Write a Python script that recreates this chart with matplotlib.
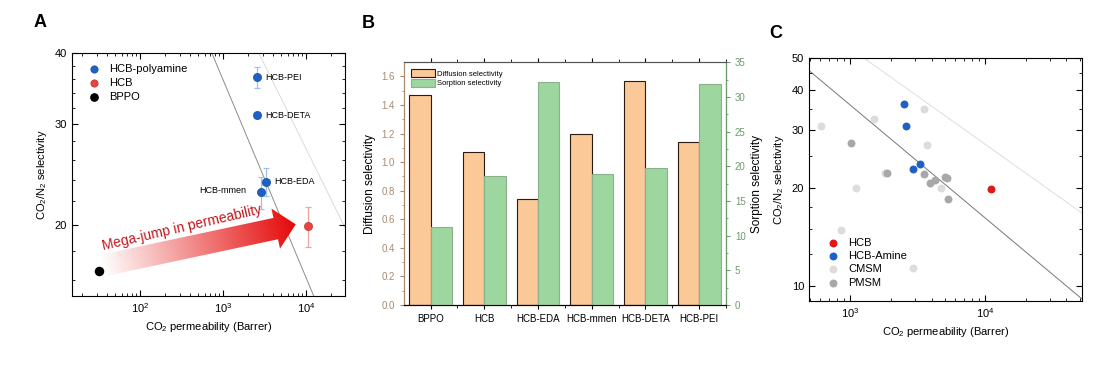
import numpy as np
import matplotlib
matplotlib.use("Agg")
import matplotlib.pyplot as plt
from matplotlib.patches import FancyArrow
from matplotlib.transforms import Affine2D
from matplotlib.ticker import FixedLocator, NullFormatter, FormatStrFormatter, LogLocator

plt.rcParams['font.family'] = ['Liberation Sans', 'DejaVu Sans']
plt.rcParams['mathtext.default'] = 'regular'

# ---- Panel A data ----
bppo_P, bppo_S = 32, 16.6
hcb_P, hcb_S, hcb_S_err = 10700, 19.9, 1.6
amine_names = ['HCB-PEI', 'HCB-DETA', 'HCB-EDA', 'HCB-mmen']
amine_P = [2540, 2570, 3250, 2880]
amine_S = [36.3, 31.1, 23.8, 22.8]
amine_S_err = [1.5, 0.3, 1.35, 1.5]
amine_P_err = [0, 120, 300, 0]

# upper bounds P = k * alpha**n
bound_2008 = (30967000, -2.888)
bound_2019 = (755580000, -3.4)

# ---- Panel B data ----
categories = ['BPPO', 'HCB', 'HCB-EDA', 'HCB-mmen', 'HCB-DETA', 'HCB-PEI']
diffusion = [1.47, 1.07, 0.74, 1.20, 1.57, 1.14]
sorption = [11.2, 18.6, 32.2, 18.9, 19.8, 31.9]

# ---- Panel C data ----
c_hcb_P, c_hcb_S = [11100], [19.9]
c_amine_P = [2520, 2580, 3290, 2940]
c_amine_S = [36.2, 31.0, 23.7, 22.8]
cmsm_P = [603, 1490, 3520, 3735, 1108, 1820, 4690, 858, 2918]
cmsm_S = [31.0, 32.6, 34.9, 27.0, 20.0, 22.2, 20.0, 14.9, 11.4]
pmsm_P = [1006, 1862, 3524, 3908, 4227, 5070, 5175, 5309]
pmsm_S = [27.4, 22.3, 22.1, 20.7, 21.1, 21.6, 21.4, 18.5]

BLUE = '#1f5fc8'
RED_A = '#e8453c'
RED_C = '#e01818'
CMSM = '#dcdcdc'
PMSM = '#a8a8a8'


def bound_line(ax, bound, color, P):
    k, n = bound
    ax.plot(P, (P / k) ** (1.0 / n), color=color, lw=0.7, zorder=1)


fig = plt.figure(figsize=(11, 3.68), dpi=100)

# ================= Panel A =================
axA = fig.add_axes([0.0655, 0.1957, 0.248, 0.660])
Pgrid = np.logspace(1, 5, 200)
bound_line(axA, bound_2008, '#8c8c8c', Pgrid)
bound_line(axA, bound_2019, '#dadada', Pgrid)

axA.errorbar(amine_P, amine_S, yerr=amine_S_err, xerr=amine_P_err, fmt='none',
             ecolor='#9fc2ea', elinewidth=0.9, capsize=2, capthick=0.9, zorder=2)
axA.errorbar([hcb_P], [hcb_S], yerr=[hcb_S_err], fmt='none', ecolor='#f0a3a3',
             elinewidth=0.9, capsize=2, capthick=0.9, zorder=2)
axA.scatter(amine_P, amine_S, s=34, color=BLUE, edgecolor='#174a9a', lw=0.5,
            zorder=4, label='HCB-polyamine')
axA.scatter([hcb_P], [hcb_S], s=34, color=RED_A, edgecolor='#c03030', lw=0.5,
            zorder=4, label='HCB')
axA.scatter([bppo_P], [bppo_S], s=34, color='black', zorder=4, label='BPPO')

for name, p, s in zip(amine_names, amine_P, amine_S):
    if name == 'HCB-mmen':
        axA.annotate(name, (p, s), xytext=(-11, 1), textcoords='offset points',
                     ha='right', va='center', fontsize=6.5)
    else:
        axA.annotate(name, (p, s), xytext=(6, 0), textcoords='offset points',
                     ha='left', va='center', fontsize=6.5)

axA.set_xscale('log')
axA.set_yscale('log')
axA.yaxis.set_major_locator(FixedLocator([20, 30, 40]))
axA.yaxis.set_minor_locator(FixedLocator(np.arange(16, 40, 2)))
axA.yaxis.set_major_formatter(FormatStrFormatter('%d'))
axA.yaxis.set_minor_formatter(NullFormatter())
axA.xaxis.set_major_locator(FixedLocator([100, 1000, 10000]))
axA.tick_params(which='both', direction='in', top=True, right=True, labelsize=8)
axA.tick_params(which='major', length=4)
axA.tick_params(which='minor', length=2)
axA.set_xlabel('CO$_2$ permeability (Barrer)', fontsize=8)
axA.set_ylabel('CO$_2$/N$_2$ selectivity', fontsize=8)
axA.legend(loc='upper left', frameon=False, fontsize=8, handletextpad=0.3,
           borderaxespad=0.6, labelspacing=0.35, markerscale=0.9)

# gradient arrow, drawn in isotropic axes units
W = 0.248 * 11
H = 0.660 * 3.68
iso = Affine2D().scale(1, W / H) + axA.transAxes
x0, y0, x1, y1 = 0.11, 0.125 * H / W, 0.82, 0.295 * H / W
arrow = FancyArrow(x0, y0, x1 - x0, y1 - y0, width=0.08, head_width=0.15,
                   head_length=0.075, length_includes_head=True,
                   transform=iso, facecolor='none', edgecolor='none')
axA.add_patch(arrow)
ux, uy = (x1 - x0), (y1 - y0)
L = np.hypot(ux, uy)
gx, gy = np.meshgrid(np.linspace(0, 1, 300), np.linspace(0, H / W, 300))
t = ((gx - x0) * ux + (gy - y0) * uy) / L ** 2
t = np.clip(t, 0, 1)
rgba = np.zeros(gx.shape + (4,))
rgba[..., 0] = 1.0 - 0.1 * t
rgba[..., 1] = 1.0 - t * 0.97
rgba[..., 2] = 1.0 - t * 0.97
rgba[..., 3] = 1.0
img = axA.imshow(rgba, extent=[0, 1, 0, H / W], origin='lower', transform=iso,
                 aspect='auto', zorder=3, interpolation='bilinear')
img.set_clip_path(arrow)
axA.text(0.115, 0.19, 'Mega-jump in permeability', transform=axA.transAxes,
         rotation=13, color='#c4141c', fontsize=10, ha='left', va='baseline',
         rotation_mode='anchor', zorder=5)
axA.set_xlim(15, 29500)
axA.set_ylim(15, 40)

# ================= Panel B =================
axB = fig.add_axes([0.367, 0.171, 0.293, 0.660])
axB2 = axB.twinx()
xpos = np.arange(len(categories))
bw = 0.4
b1 = axB.bar(xpos - bw / 2, diffusion, width=bw, color='#fbc898', edgecolor='#2a1a10',
             lw=0.8, label='Diffusion selectivity')
b2 = axB2.bar(xpos + bw / 2, sorption, width=bw, color='#9dd69e', edgecolor='#8ab08c',
              lw=0.8, label='Sorption selectivity')
axB.set_xlim(-0.5, len(categories) - 0.5)
axB.set_ylim(0, 1.7)
axB2.set_ylim(0, 35)
axB.set_xticks(xpos)
axB.set_xticklabels(categories, fontsize=7)
axB.set_xticks(xpos + 0.5, minor=True)
axB.set_yticks(np.arange(0, 1.61, 0.2))
axB.yaxis.set_major_formatter(FormatStrFormatter('%.1f'))
axB.set_yticks(np.arange(0.1, 1.7, 0.2), minor=True)
axB2.set_yticks(np.arange(0, 36, 5))
axB2.set_yticks(np.arange(2.5, 35, 5), minor=True)
brown = '#a98a6c'
green = '#6c9c6c'
axB.tick_params(axis='y', which='both', colors=brown, labelsize=7, length=3)
axB.tick_params(axis='y', which='minor', length=1.5)
axB.tick_params(axis='x', which='both', direction='out', length=3, top=True)
axB.tick_params(axis='x', which='minor', length=2)
axB2.tick_params(axis='y', which='both', colors=green, labelsize=7, length=3)
axB2.tick_params(axis='y', which='minor', length=1.5)
axB.spines['left'].set_color(brown)
axB2.spines['left'].set_color(brown)
axB2.spines['right'].set_color(green)
axB.spines['top'].set_color('#555555')
axB2.spines['top'].set_color('#555555')
axB.set_ylabel('Diffusion selectivity', fontsize=8.5)
axB2.set_ylabel('Sorption selectivity', fontsize=8.5)
axB.legend([b1, b2], ['Diffusion selectivity', 'Sorption selectivity'],
           loc='upper left', fontsize=5.5, frameon=False, handlelength=3.2,
           handleheight=1.3, labelspacing=0.1, handletextpad=0.2,
           borderaxespad=0.5)

# ================= Panel C =================
axC = fig.add_axes([0.7355, 0.182, 0.248, 0.660])
Pgrid_c = np.logspace(2.5, 5, 200)
bound_line(axC, bound_2008, '#777777', Pgrid_c)
bound_line(axC, bound_2019, '#dedede', Pgrid_c)
axC.scatter(c_hcb_P, c_hcb_S, s=22, color=RED_C, zorder=4, label='HCB')
axC.scatter(c_amine_P, c_amine_S, s=22, color=BLUE, zorder=4, label='HCB-Amine')
axC.scatter(cmsm_P, cmsm_S, s=22, color=CMSM, zorder=3, label='CMSM')
axC.scatter(pmsm_P, pmsm_S, s=22, color=PMSM, zorder=3, label='PMSM')
axC.set_xscale('log')
axC.set_yscale('log')
axC.set_xlim(495, 52000)
axC.set_ylim(9, 50)
axC.yaxis.set_major_locator(FixedLocator([10, 20, 30, 40, 50]))
axC.yaxis.set_major_formatter(FormatStrFormatter('%d'))
axC.yaxis.set_minor_locator(FixedLocator([9, 12.5, 15, 17.5, 25, 35, 45]))
axC.yaxis.set_minor_formatter(NullFormatter())
axC.xaxis.set_major_locator(FixedLocator([1000, 10000]))
axC.xaxis.set_minor_locator(LogLocator(base=10, subs=np.arange(2, 10)))
axC.xaxis.set_minor_formatter(NullFormatter())
axC.tick_params(which='both', direction='in', top=True, right=True, labelsize=8)
axC.tick_params(which='major', length=4)
axC.tick_params(which='minor', length=2)
axC.set_xlabel('CO$_2$ permeability (Barrer)', fontsize=8)
axC.set_ylabel('CO$_2$/N$_2$ selectivity', fontsize=8)
axC.legend(loc='lower left', frameon=False, fontsize=8, handletextpad=0.3,
           borderaxespad=0.8, labelspacing=0.3)

# panel letters
fig.text(0.036, 0.94, 'A', fontsize=13, fontweight='bold', ha='center', va='center')
fig.text(0.335, 0.935, 'B', fontsize=13, fontweight='bold', ha='center', va='center')
fig.text(0.705, 0.91, 'C', fontsize=13, fontweight='bold', ha='center', va='center')

fig.savefig('out.png', dpi=100)
